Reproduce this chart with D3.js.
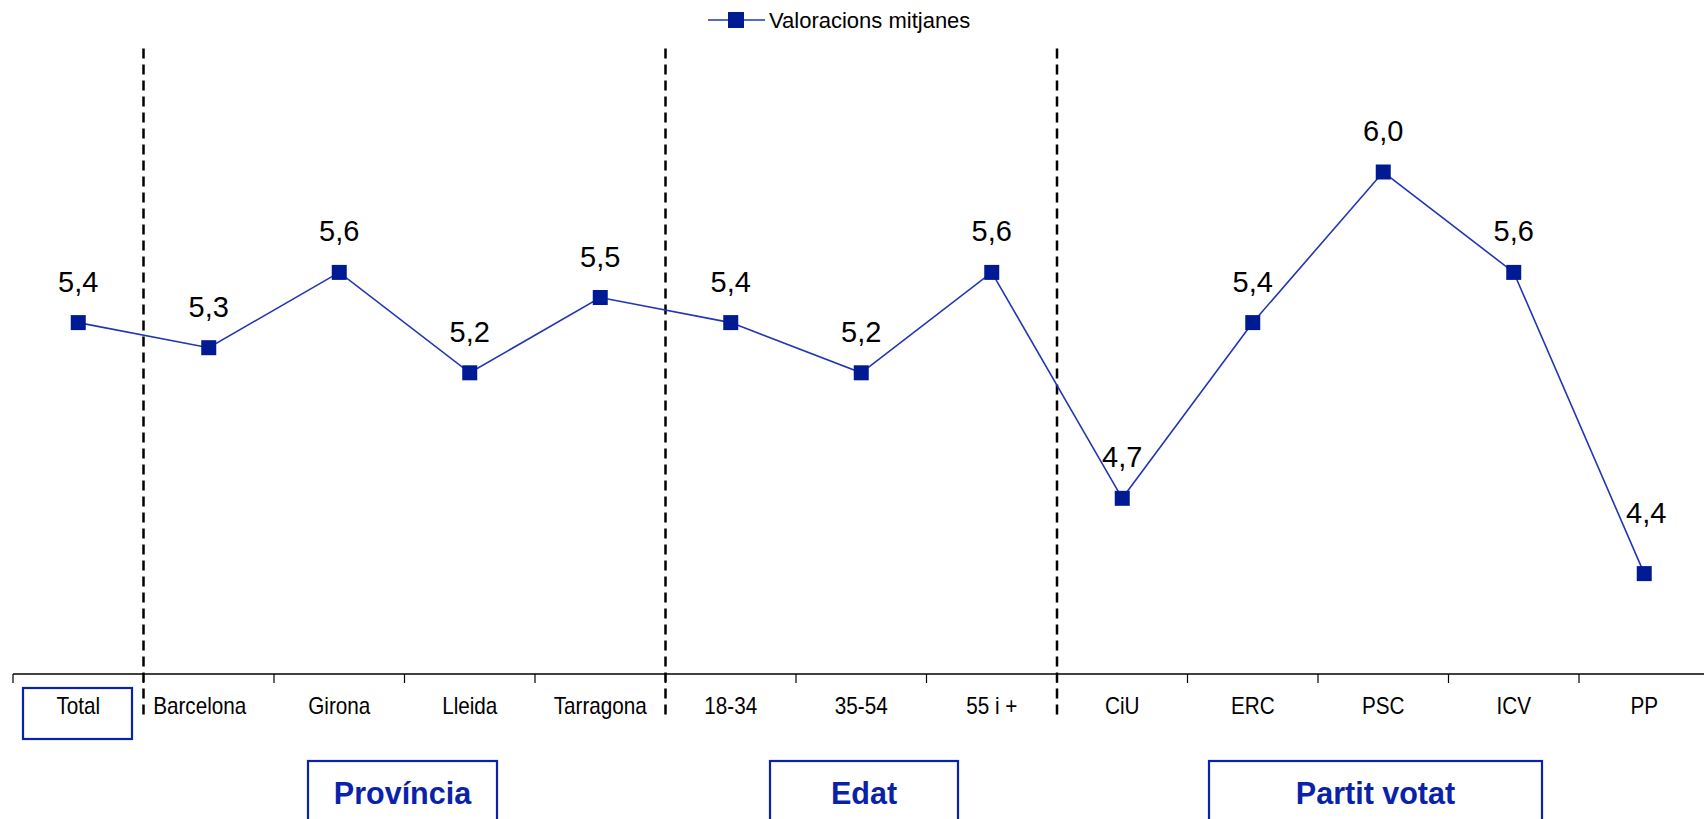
<!DOCTYPE html>
<html><head><meta charset="utf-8">
<script src="https://cdn.jsdelivr.net/npm/d3@7"></script>
<style>body{margin:0;background:#fff}svg{display:block}text{font-family:"Liberation Sans",Arial,sans-serif}</style>
</head><body><svg id="c" width="1704" height="819"></svg>
<script>
const categories = ["Total","Barcelona","Girona","Lleida","Tarragona","18-34","35-54","55 i +","CiU","ERC","PSC","ICV","PP"];
const values = [5.4,5.3,5.6,5.2,5.5,5.4,5.2,5.6,4.7,5.4,6.0,5.6,4.4];
const valueLabels = ["5,4","5,3","5,6","5,2","5,5","5,4","5,2","5,6","4,7","5,4","6,0","5,6","4,4"];
const seriesName = "Valoracions mitjanes";
const groups = ["Província","Edat","Partit votat"];
const separatorsAfter = [0,4,7];

const svg = d3.select("#c");
const x = d3.scaleBand().domain(categories).range([13, 13+130.5*13]).padding(0);
const y = d3.scaleLinear().domain([4, 6.5]).range([674, 46.5]);
const lineColor = "#2236b4", markColor = "#001a94", boxColor = "#0a22aa";
const cx = d => x(d) + x.bandwidth()/2;

// separators
separatorsAfter.forEach(i => {
  const xx = x(categories[i]) + x.bandwidth();
  svg.append("line").attr("x1",xx).attr("x2",xx).attr("y1",y(6.5)+2).attr("y2",720)
    .attr("stroke","#000").attr("stroke-width",2.5).attr("stroke-dasharray","10,6");
});

// axis
const ax = svg.append("g").attr("transform","translate(0,"+y(4)+")");
ax.append("line").attr("x1",x.range()[0]).attr("x2",1704).attr("stroke","#000").attr("stroke-width",1.5);
ax.selectAll("line.t").data(categories).enter().append("line").attr("class","t")
  .attr("x1",d=>x(d)).attr("x2",d=>x(d)).attr("y1",0).attr("y2",9).attr("stroke","#000").attr("stroke-width",1.2);
ax.selectAll("text").data(categories).enter().append("text")
  .attr("transform",d=>"translate("+(cx(d)+(d==="Barcelona"?-9:0))+",40) scale(0.9,1)")
  .attr("text-anchor","middle").attr("font-size",23).attr("fill","#000").text(d=>d);

// Total box
svg.append("rect").attr("x",23).attr("y",688).attr("width",109).attr("height",51)
  .attr("fill","none").attr("stroke",boxColor).attr("stroke-width",2.2);

// group boxes
const gbox = [[308,497],[770,958],[1209,1542]];
groups.forEach((g,i) => {
  const [a,b] = gbox[i];
  svg.append("rect").attr("x",a).attr("y",761).attr("width",b-a).attr("height",80)
    .attr("fill","none").attr("stroke",boxColor).attr("stroke-width",2.2);
  svg.append("text").attr("x",(a+b)/2).attr("y",804)
    .attr("text-anchor","middle").attr("font-size",30.5).attr("font-weight","bold").attr("fill",boxColor).text(g);
});

// line
const line = d3.line().x((d,i)=>cx(categories[i])).y(d=>y(d));
svg.append("path").datum(values).attr("d",line).attr("fill","none").attr("stroke",lineColor).attr("stroke-width",1.6);
svg.selectAll("rect.m").data(values).enter().append("rect").attr("class","m")
  .attr("x",(d,i)=>cx(categories[i])-7.5).attr("y",d=>y(d)-7.5).attr("width",15).attr("height",15).attr("fill",markColor);
svg.selectAll("text.v").data(values).enter().append("text").attr("class","v")
  .attr("x",(d,i)=>cx(categories[i]) + (i===12?2:0)).attr("y",(d,i)=>y(d)-(i===12?51:31)).attr("text-anchor","middle")
  .attr("font-size",29).attr("fill","#000").text((d,i)=>valueLabels[i]);

// legend
const lg = svg.append("g");
lg.append("line").attr("x1",708).attr("x2",765).attr("y1",20).attr("y2",20).attr("stroke",lineColor).attr("stroke-width",1.6);
lg.append("rect").attr("x",728).attr("y",12).attr("width",16).attr("height",16).attr("fill",markColor);
lg.append("text").attr("x",769).attr("y",28).attr("font-size",22).attr("fill","#000").text(seriesName);
</script></body></html>
